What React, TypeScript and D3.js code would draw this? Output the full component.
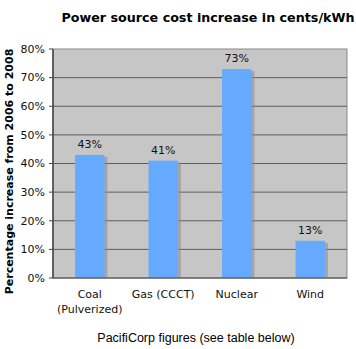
import React from "react";
import * as d3 from "d3";

const categories = ["Coal|(Pulverized)", "Gas (CCCT)", "Nuclear", "Wind"];
const values = [43, 41, 73, 13];
const yTicks = [0, 10, 20, 30, 40, 50, 60, 70, 80];
const title = "Power source cost increase in cents/kWh";
const yLabel = "Percentage increase from 2006 to 2008";
const caption = "PacifiCorp figures (see table below)";

export default function App() {
  const W = 356, H = 349;
  const left = 53, right = 347, top = 49, bottom = 278;
  const x = d3.scaleBand<string>().domain(categories).range([left, right]).paddingInner(0.6).paddingOuter(0.3);
  const band = d3.scaleBand<string>().domain(categories).range([left, right]);
  const y = d3.scaleLinear().domain([0, 80]).range([bottom, top]);
  const font = "'DejaVu Sans', Verdana, sans-serif";
  return (
    <svg width={W} height={H} style={{ position: "absolute", left: 0, top: 0, background: "#fff" }}>
      <text x={208} y={22} textAnchor="middle" fontFamily={font} fontWeight="bold" fontSize={12.7} fill="#000">{title}</text>
      <rect x={left} y={top} width={right - left} height={bottom - top} fill="#c6c6c6" stroke="#8a8a8a" strokeWidth={1} />
      {yTicks.map(t => (
        <g key={t}>
          {t > 0 && t < 80 && <line x1={left} x2={right} y1={y(t)} y2={y(t)} stroke="#5e5e5e" strokeWidth={1} />}
          <line x1={left - 4} x2={left} y1={y(t)} y2={y(t)} stroke="#444" strokeWidth={1} />
          <text x={45} y={y(t)} dy="0.35em" textAnchor="end" fontFamily={font} fontSize={11} fill="#111">{t}%</text>
        </g>
      ))}
      {categories.map((c, i) => (
        <g key={c}>
          <rect x={(x(c) as number) + 3} y={y(values[i]) + 2} width={x.bandwidth()} height={bottom - y(values[i]) - 2} fill="#8f8f8f" opacity={0.6} />
          <rect x={x(c)} y={y(values[i])} width={x.bandwidth()} height={bottom - y(values[i])} fill="#66aaff" />
          <text x={(x(c) as number) + x.bandwidth() / 2} y={y(values[i]) - 7} textAnchor="middle" fontFamily={font} fontSize={11} fill="#111">{values[i]}%</text>
          {c.split("|").map((s, j) => (
            <text key={j} x={(band(c) as number) + band.bandwidth() / 2} y={298 + j * 15} textAnchor="middle" fontFamily={font} fontSize={11} fill="#111">{s}</text>
          ))}
        </g>
      ))}
      <line x1={left} x2={left} y1={top} y2={bottom} stroke="#444" strokeWidth={1.5} />
      <line x1={left} x2={right} y1={bottom} y2={bottom} stroke="#444" strokeWidth={1} />
      <text transform={`translate(13, ${(top + bottom) / 2 + 8}) rotate(-90)`} textAnchor="middle" fontFamily={font} fontWeight="bold" fontSize={11} fill="#000">{yLabel}</text>
      <text x={196} y={342} textAnchor="middle" fontFamily="'Liberation Sans', Arial, sans-serif" fontSize={12.5} fill="#000">{caption}</text>
    </svg>
  );
}
